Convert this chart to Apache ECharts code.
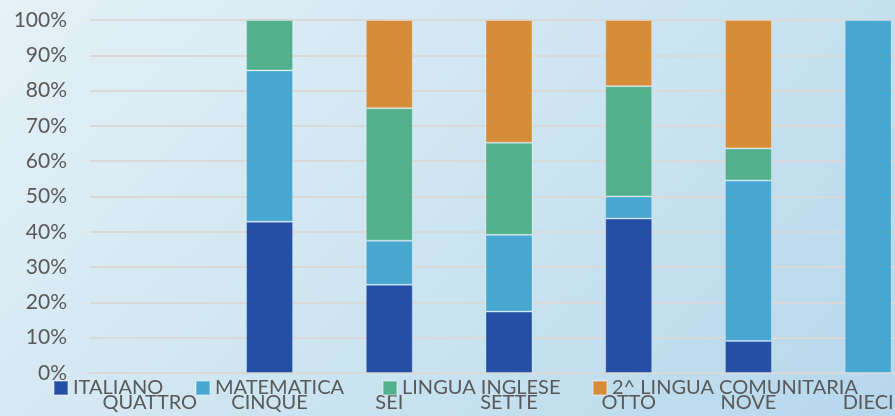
<!DOCTYPE html>
<html>
<head>
<meta charset="utf-8">
<script src="https://cdn.jsdelivr.net/npm/echarts@6/dist/echarts.min.js"></script>
<style>
html,body{margin:0;padding:0;overflow:hidden;width:895px;height:416px;}
#wrap{width:895px;height:416px;overflow:hidden;position:relative;background:linear-gradient(135deg,#e5f1f7 0%,#cde5f1 50%,#b6d7ec 100%);}
#c{width:928px;height:416px;position:absolute;left:0;top:0;}
</style>
</head>
<body>
<div id="wrap"><div id="c"></div></div>
<script>
const categories = ['QUATTRO','CINQUE','SEI','SETTE','OTTO','NOVE','DIECI'];
const seriesNames = ['ITALIANO','MATEMATICA','LINGUA INGLESE','2^ LINGUA COMUNITARIA'];
const italiano   = [0, 42.86, 25.0, 17.39, 43.75,  9.09, 0];
const matematica = [0, 42.86, 12.5, 21.74,  6.25, 45.45, 100];
const inglese    = [0, 14.28, 37.5, 26.09, 31.25,  9.09, 0];
const comunitaria= [0,  0,    25.0, 34.78, 18.75, 36.37, 0];
const yTicks = [0,10,20,30,40,50,60,70,80,90,100];

const colors = ['#254fa5','#47a7d0','#52b18c','#d68d39'];
const values = [italiano, matematica, inglese, comunitaria];
const FONT = 'Lato';
const TXT = '#595959';
const legendLeft = [48, 190, 377, 587];

const chart = echarts.init(document.getElementById('c'), null, {renderer:'canvas'});
chart.setOption({
  backgroundColor: 'transparent',
  animation: false,
  textStyle: {fontFamily: FONT},
  grid: {left: 90, right: 0, top: 20, bottom: 43, containLabel: false},
  legend: seriesNames.map((n, i) => ({
    data: [n], left: legendLeft[i], top: 371,
    itemWidth: 14, itemHeight: 14, itemGap: 0,
    icon: 'rect',
    textStyle: {color: TXT, fontSize: 20, fontFamily: FONT, lineHeight: 24}
  })),
  xAxis: {
    type: 'category', data: categories,
    axisLine: {show: true, lineStyle: {color: '#d9d9d9', width: 2}},
    axisTick: {show: false},
    axisLabel: {color: TXT, fontSize: 20, fontFamily: FONT, margin: 18, lineHeight: 24, interval: 0}
  },
  yAxis: {
    type: 'value', min: yTicks[0], max: yTicks[yTicks.length-1], interval: 10,
    axisLine: {show: false}, axisTick: {show: false},
    splitLine: {lineStyle: {color: '#d9d9d9', width: 2}},
    axisLabel: {color: TXT, fontSize: 21, fontFamily: FONT, margin: 23, formatter: '{value}%'}
  },
  series: seriesNames.map((n, i) => ({
    name: n, type: 'bar', stack: 'total', barWidth: 47,
    data: values[i].map(v => v === 0 ? '-' : v),
    itemStyle: {color: colors[i], borderColor: 'rgba(255,255,255,0.3)', borderWidth: 1}
  }))
});
</script>
</body>
</html>
